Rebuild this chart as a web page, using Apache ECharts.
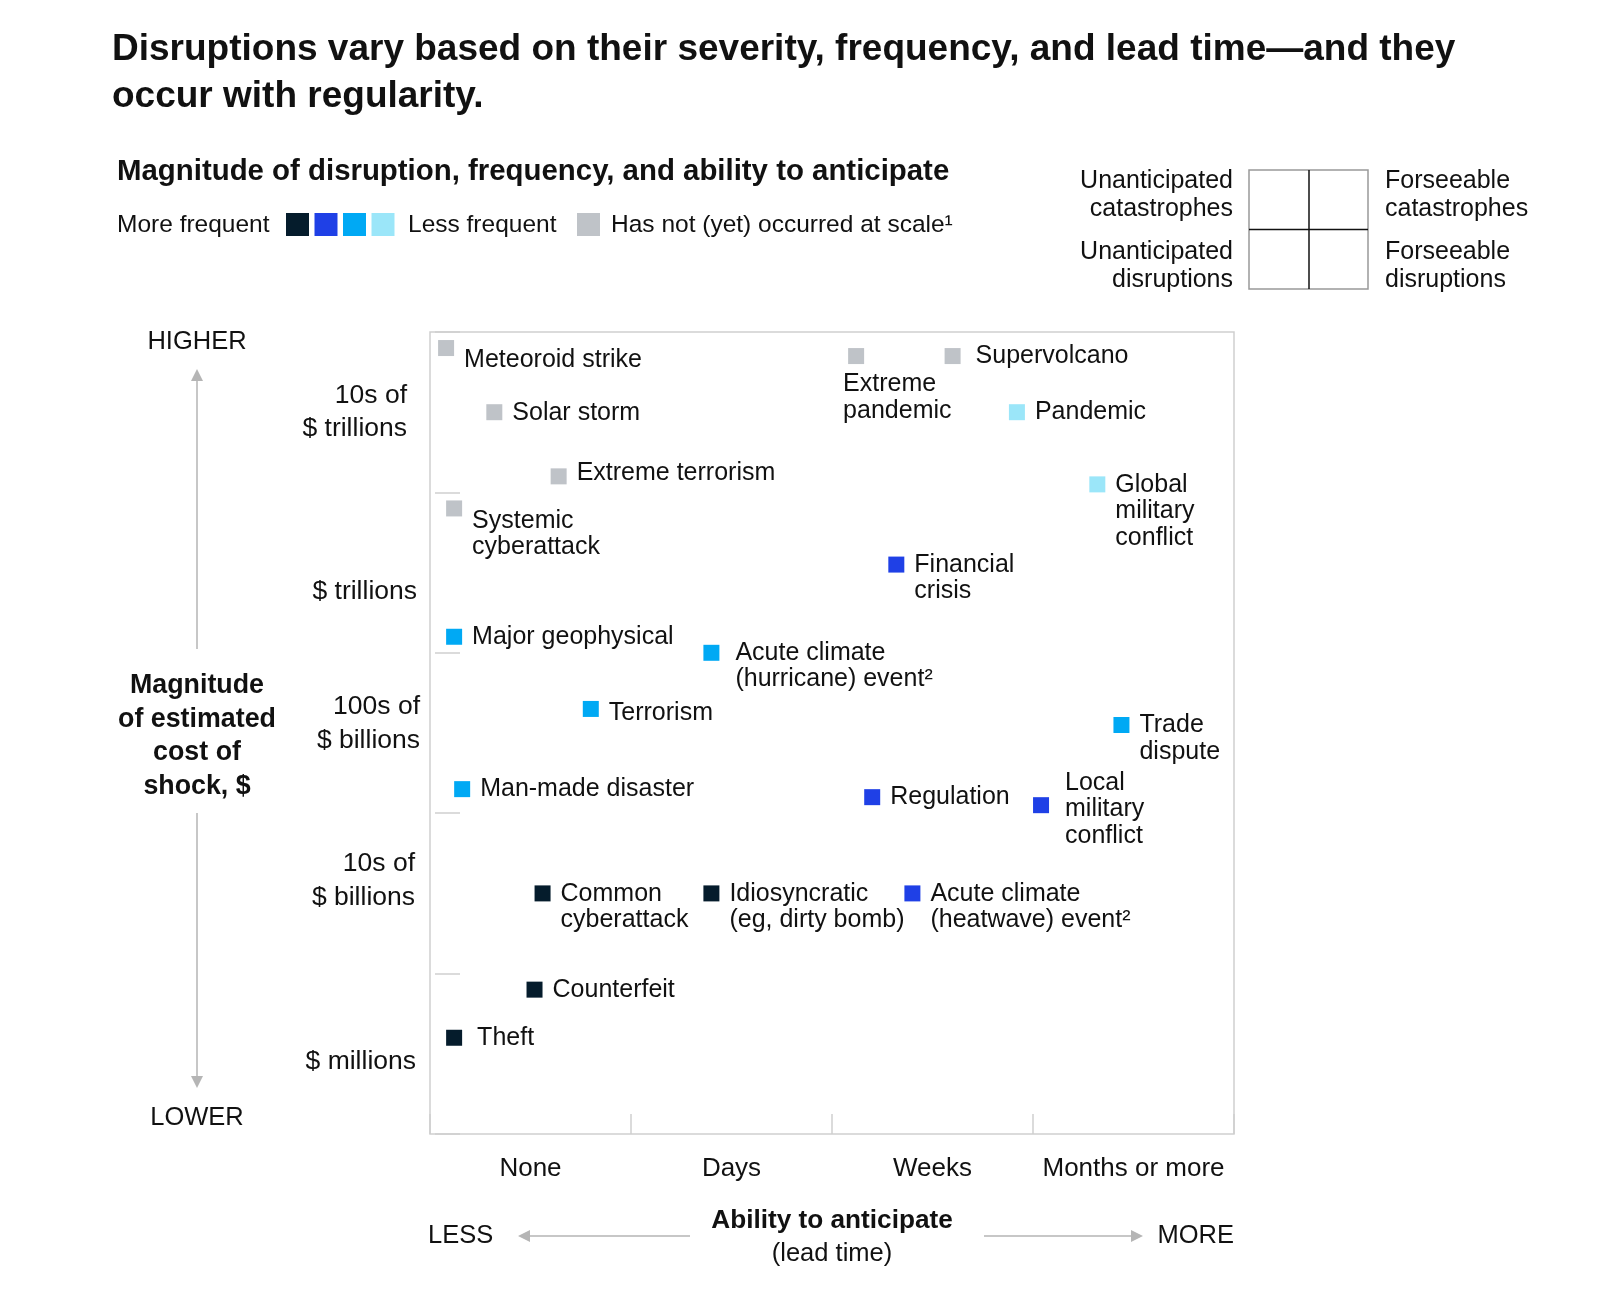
<!DOCTYPE html>
<html>
<head>
<meta charset="utf-8">
<title>Disruptions</title>
<script src="https://cdn.jsdelivr.net/npm/echarts@6/dist/echarts.min.js"></script>
<style>
  html, body { margin: 0; padding: 0; background: #fff; }
  #chart { width: 1600px; height: 1312px; }
</style>
</head>
<body>
<div id="chart"></div>
<script>
// axis categories
const leadTimes = ['None', 'Days', 'Weeks', 'Months or more'];
const costBands = ['$ millions', '10s of\n$ billions', '100s of\n$ billions', '$ trillions', '10s of\n$ trillions'];

// frequency classes (0 = most frequent ... 4 = not yet occurred)
const freqNames = ['Most frequent', 'Frequent', 'Occasional', 'Less frequent', 'Has not (yet) occurred at scale'];
const freqColors = ['#051c2c', '#1f40e6', '#00a9f4', '#9be6f9', '#bfc3c8'];

// events: lead time (0-4 across columns), cost (0-5 across bands), frequency class
const eventNames = [
  'Meteoroid strike', 'Solar storm', 'Extreme terrorism', 'Systemic\ncyberattack',
  'Extreme\npandemic', 'Supervolcano', 'Pandemic', 'Global\nmilitary\nconflict',
  'Financial\ncrisis', 'Major geophysical', 'Acute climate\n(hurricane) event²', 'Terrorism',
  'Trade\ndispute', 'Man-made disaster', 'Regulation', 'Local\nmilitary\nconflict',
  'Common\ncyberattack', 'Idiosyncratic\n(eg, dirty bomb)', 'Acute climate\n(heatwave) event²',
  'Counterfeit', 'Theft'
];
const eventLead = [0.08, 0.32, 0.64, 0.12, 2.12, 2.60, 2.92, 3.32, 2.32, 0.12, 1.40, 0.80, 3.44, 0.16, 2.20, 3.04, 0.56, 1.40, 2.40, 0.52, 0.12];
const eventCost = [4.90, 4.50, 4.10, 3.90, 4.85, 4.85, 4.50, 4.05, 3.55, 3.10, 3.00, 2.65, 2.55, 2.15, 2.10, 2.05, 1.50, 1.50, 1.50, 0.90, 0.60];
const eventFreq = [4, 4, 4, 4, 4, 4, 3, 3, 1, 2, 2, 2, 2, 2, 1, 1, 0, 0, 1, 0, 0];

const FONT = '"Liberation Sans", Arial, sans-serif';
const GREY = '#b5b5b5';

// label placement tweaks per event
const labelTweaks = {
  'Meteoroid strike': { offset: [0, -1] },
  'Solar storm': { offset: [0, -12] },
  'Extreme terrorism': { offset: [0, -17] },
  'Systemic\ncyberattack': { offset: [0, -1] },
  'Extreme\npandemic': { position: 'bottom', align: 'left', offset: [-13, 0], distance: 7 },
  'Supervolcano': { distance: 15 },
  'Acute climate\n(hurricane) event²': { distance: 16 },
  'Terrorism': { offset: [0, -9] },
  'Local\nmilitary\nconflict': { verticalAlign: 'middle', offset: [0, 4], distance: 16 },
  'Theft': { distance: 15 }
};

// nudges of the cost band labels: spacer line (above/below) and right inset style
const bandSpacer = [['s16', 'top'], ['s26', 'bottom'], ['s18', 'bottom'], ['s38', 'top'], null];
const bandStyle = ['a4', 'a5', 'a0', 'a3', 'a13'];

const chart = echarts.init(document.getElementById('chart'), null, { renderer: 'canvas' });

const series = freqNames.map((fname, k) => {
  const data = [];
  eventNames.forEach((n, i) => {
    if (eventFreq[i] !== k) return;
    data.push({
      name: n,
      value: [eventLead[i], eventCost[i]],
      label: Object.assign({}, labelTweaks[n] || {})
    });
  });
  return {
    name: fname,
    type: 'scatter',
    xAxisIndex: 1,
    yAxisIndex: 1,
    symbol: 'rect',
    symbolSize: 16,
    itemStyle: { color: freqColors[k], opacity: 1 },
    label: {
      show: true,
      formatter: '{b}',
      position: 'right',
      distance: 10,
      align: 'left',
      verticalAlign: 'top',
      offset: [0, -13],
      fontFamily: FONT,
      fontSize: 25,
      lineHeight: 26.5,
      color: '#111'
    },
    emphasis: { disabled: true },
    data: data
  };
});

function text(x, y, t, opts) {
  return {
    type: 'text',
    silent: true,
    style: Object.assign({
      x: x, y: y, text: t,
      fill: '#111',
      font: '24.5px ' + FONT,
      align: 'left',
      verticalAlign: 'middle'
    }, opts || {})
  };
}
function arrow(x1, y1, x2, y2) {
  // line with triangle head at (x2, y2)
  const ang = Math.atan2(y2 - y1, x2 - x1);
  const L = 12, W = 6;
  const bx = x2 - L * Math.cos(ang), by = y2 - L * Math.sin(ang);
  return [
    { type: 'line', silent: true, shape: { x1: x1, y1: y1, x2: bx, y2: by }, style: { stroke: GREY, lineWidth: 1.5 } },
    { type: 'polygon', silent: true, shape: { points: [
      [x2, y2],
      [bx + W * Math.sin(ang), by - W * Math.cos(ang)],
      [bx - W * Math.sin(ang), by + W * Math.cos(ang)]
    ] }, style: { fill: GREY } }
  ];
}

const sw = 23;
const big = '25.5px ' + FONT;
const quad = { lineHeight: 27.5, font: '25px ' + FONT };
const graphics = [
  // frequency key
  text(117, 225, 'More frequent'),
  ...[0, 1, 2, 3].map(k => ({
    type: 'rect', silent: true,
    shape: { x: 286 + k * 28.5, y: 213, width: sw, height: sw },
    style: { fill: freqColors[k] }
  })),
  text(408, 225, 'Less frequent'),
  { type: 'rect', silent: true, shape: { x: 577, y: 213, width: sw, height: sw }, style: { fill: freqColors[4] } },
  text(611, 225, 'Has not (yet) occurred at scale¹'),

  // quadrant key
  text(1233, 195, 'Unanticipated\ncatastrophes', Object.assign({ align: 'right' }, quad)),
  text(1233, 266, 'Unanticipated\ndisruptions', Object.assign({ align: 'right' }, quad)),
  text(1385, 195, 'Forseeable\ncatastrophes', quad),
  text(1385, 266, 'Forseeable\ndisruptions', quad),
  { type: 'rect', silent: true, shape: { x: 1249, y: 170, width: 119, height: 119 }, style: { fill: 'none', stroke: '#999', lineWidth: 1.5 } },
  { type: 'line', silent: true, shape: { x1: 1309, y1: 170, x2: 1309, y2: 289 }, style: { stroke: '#111', lineWidth: 1.5 } },
  { type: 'line', silent: true, shape: { x1: 1249, y1: 229.5, x2: 1368, y2: 229.5 }, style: { stroke: '#111', lineWidth: 1.5 } },

  // vertical axis title
  text(197, 342, 'HIGHER', { align: 'center', font: big }),
  ...arrow(197, 649, 197, 369),
  text(197, 736, 'Magnitude\nof estimated\ncost of\nshock, $', { align: 'center', font: 'bold 26.8px ' + FONT, lineHeight: 33.7 }),
  ...arrow(197, 813, 197, 1088),
  text(197, 1118, 'LOWER', { align: 'center', font: big }),

  // horizontal axis title
  text(428, 1236, 'LESS', { font: big }),
  ...arrow(690, 1236, 518, 1236),
  text(832, 1221, 'Ability to anticipate', { align: 'center', font: 'bold 26.2px ' + FONT }),
  text(832, 1254, '(lead time)', { align: 'center', font: big }),
  ...arrow(984, 1236, 1143, 1236),
  text(1234, 1236, 'MORE', { align: 'right', font: big })
];

const labelRich = {
  s16: { fontSize: 1, lineHeight: 16 },
  s18: { fontSize: 1, lineHeight: 18 },
  s26: { fontSize: 1, lineHeight: 26 },
  s38: { fontSize: 1, lineHeight: 38 }
};
[0, 3, 4, 5, 13].forEach(p => {
  labelRich['a' + p] = { fontFamily: FONT, fontSize: 26.5, lineHeight: 33.7, color: '#111', align: 'right', padding: [0, p, 0, 0] };
});

const option = {
  animation: false,
  title: [
    {
      text: 'Disruptions vary based on their severity, frequency, and lead time—and they\noccur with regularity.',
      left: 112, top: 26, padding: 0,
      textStyle: { fontFamily: FONT, fontWeight: 'bold', fontSize: 37, lineHeight: 47, color: '#111' }
    },
    {
      text: 'Magnitude of disruption, frequency, and ability to anticipate',
      left: 117, top: 155, padding: 0,
      textStyle: { fontFamily: FONT, fontWeight: 'bold', fontSize: 29.4, lineHeight: 34, color: '#111' }
    }
  ],
  grid: {
    left: 430, right: 366, top: 332, bottom: 178,
    show: true, borderColor: '#cfcfcf', borderWidth: 1.5, backgroundColor: 'transparent'
  },
  xAxis: [
    {
      type: 'category',
      data: leadTimes,
      boundaryGap: true,
      axisLine: { show: false },
      axisTick: { show: true, interval: 0, inside: true, length: 20, lineStyle: { color: '#cfcfcf', width: 1.5 } },
      axisLabel: { interval: 0, margin: 22, fontFamily: FONT, fontSize: 26, color: '#111' },
      splitLine: { show: false }
    },
    { type: 'value', min: 0, max: 4, show: false }
  ],
  yAxis: [
    {
      type: 'category',
      data: costBands,
      boundaryGap: true,
      offset: -5,
      axisLine: { show: false },
      axisTick: { show: true, interval: 0, inside: true, length: 25, lineStyle: { color: '#cfcfcf', width: 1.5 } },
      axisLabel: {
        interval: 0,
        margin: 15,
        align: 'right',
        formatter: (v, i) => {
          const st = bandStyle[i];
          const lines = v.split('\n').map(l => '{' + st + '|' + l + '}');
          const sp = bandSpacer[i];
          if (sp) {
            if (sp[1] === 'top') lines.unshift('{' + sp[0] + '| }');
            else lines.push('{' + sp[0] + '| }');
          }
          return lines.join('\n');
        },
        rich: labelRich
      },
      splitLine: { show: false }
    },
    { type: 'value', min: 0, max: 5, show: false }
  ],
  series: series,
  graphic: graphics
};

chart.setOption(option);
</script>
</body>
</html>
